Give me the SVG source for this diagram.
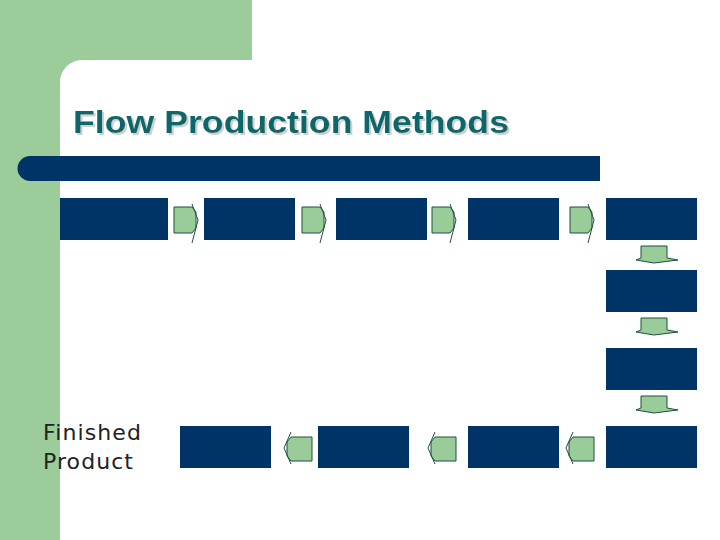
<svg xmlns="http://www.w3.org/2000/svg" width="720" height="540" viewBox="0 0 720 540">
<style>
.b{fill:#003366}
.a{fill:#99cc99;stroke:#1f4f3f;stroke-width:1}
</style>
<defs>
<filter id="sh" x="-5%" y="-20%" width="110%" height="140%"><feDropShadow dx="2" dy="2" stdDeviation="0" flood-color="#c9d3d3"/></filter>
</defs>
<rect width="720" height="540" fill="#fff"/>
<path d="M0 0H252V60H82A22 22 0 0 0 60 82V540H0Z" fill="#9ccc9a"/>
<path d="M30 156H600V181H30A12.5 12.5 0 0 1 30 156Z" class="b"/>
<text x="73" y="133" font-family="Liberation Sans, Arial, sans-serif" font-weight="bold" font-size="32" textLength="436" lengthAdjust="spacingAndGlyphs" fill="#11666a" filter="url(#sh)">Flow Production Methods</text>
<g id="nodes">
<rect id="n1" class="b" x="60" y="198" width="108" height="42"/>
<rect id="n2" class="b" x="204" y="198" width="91" height="42"/>
<rect id="n3" class="b" x="336" y="198" width="91" height="42"/>
<rect id="n4" class="b" x="468" y="198" width="91" height="42"/>
<rect id="n5" class="b" x="606" y="198" width="91" height="42"/>
<rect id="n6" class="b" x="606" y="270" width="91" height="42"/>
<rect id="n7" class="b" x="606" y="348" width="91" height="42"/>
<rect id="n8" class="b" x="606" y="426" width="91" height="42"/>
<rect id="n9" class="b" x="468" y="426" width="91" height="42"/>
<rect id="n10" class="b" x="318" y="426" width="91" height="42"/>
<rect id="n11" class="b" x="180" y="426" width="91" height="42"/>
</g>
<text font-family="DejaVu Sans, sans-serif" font-size="22" fill="#222"><tspan x="43" y="440" textLength="98">Finished</tspan><tspan x="43" y="469" textLength="90">Product</tspan></text>
<g id="connectors">
<path class="a" d="M174 207H192L196 212V228L192 233H174Z"/><path d="M192 204L198 220L192 243" fill="none" stroke="#1f4f3f"/>
<path class="a" d="M302 207H320L324 212V228L320 233H302Z"/><path d="M320 204L326 220L320 243" fill="none" stroke="#1f4f3f"/>
<path class="a" d="M432 207H450L454 212V228L450 233H432Z"/><path d="M450 204L456 220L450 243" fill="none" stroke="#1f4f3f"/>
<path class="a" d="M570 207H588L592 212V228L588 233H570Z"/><path d="M588 204L594 220L588 243" fill="none" stroke="#1f4f3f"/>
<path class="a" d="M641 246H667V258L678 260L654 263L636 260L641 258Z"/>
<path class="a" d="M641 318H667V330L678 332L654 335L636 332L641 330Z"/>
<path class="a" d="M641 396H667V408L678 410L654 413L636 410L641 408Z"/>
<path class="a" d="M594 437H573L569 442V456L573 461H594Z"/><path d="M573 432L566 448L573 464" fill="none" stroke="#1f4f3f"/>
<path class="a" d="M456 437H435L431 442V456L435 461H456Z"/><path d="M435 432L428 448L435 464" fill="none" stroke="#1f4f3f"/>
<path class="a" d="M312 437H291L287 442V456L291 461H312Z"/><path d="M291 432L284 448L291 464" fill="none" stroke="#1f4f3f"/>
</g>
</svg>
